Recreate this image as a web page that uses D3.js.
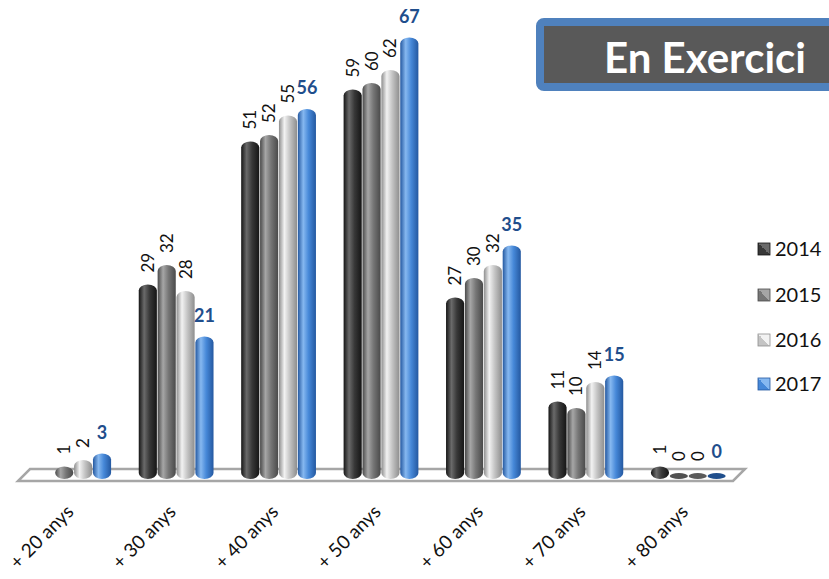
<!DOCTYPE html>
<html>
<head>
<meta charset="utf-8">
<script src="https://cdn.jsdelivr.net/npm/d3@7"></script>
<style>
  html, body { margin: 0; padding: 0; background: #fff; }
  svg { display: block; font-family: Lato, "Open Sans", sans-serif; }
</style>
</head>
<body>
<svg id="chart" width="829" height="579"></svg>
<script>
// Age bands and yearly counts
const categories = ["+ 20 anys", "+ 30 anys", "+ 40 anys", "+ 50 anys", "+ 60 anys", "+ 70 anys", "+ 80 anys"];
const years = ["2014", "2015", "2016", "2017"];
const v2014 = [null, 29, 51, 59, 27, 11, 1];
const v2015 = [1, 32, 52, 60, 30, 10, 0];
const v2016 = [2, 28, 55, 62, 32, 14, 0];
const v2017 = [3, 21, 56, 67, 35, 15, 0];
const seriesValues = [v2014, v2015, v2016, v2017];
const titleText = "En Exercici";

// Cylinder shading per series: edge, body, highlight, flat (zero-height disc)
const palette = [
  { edge: "#151515", body: "#383838", hi: "#6a6a6a", flat: "#2a2a2a" },
  { edge: "#4a4a4a", body: "#767676", hi: "#a6a6a6", flat: "#505050" },
  { edge: "#8e8e8e", body: "#c4c4c4", hi: "#f2f2f2", flat: "#5a5a5a" },
  { edge: "#2458a0", body: "#4688d8", hi: "#86b8f0", flat: "#1f4e8c" }
];

const svg = d3.select("#chart");
const defs = svg.append("defs");

palette.forEach((p, i) => {
  const g = defs.append("linearGradient").attr("id", "cyl" + i)
    .attr("x1", "0%").attr("x2", "100%").attr("y1", "0%").attr("y2", "0%");
  g.append("stop").attr("offset", "0%").attr("stop-color", p.edge);
  g.append("stop").attr("offset", "30%").attr("stop-color", p.hi);
  g.append("stop").attr("offset", "60%").attr("stop-color", p.body);
  g.append("stop").attr("offset", "100%").attr("stop-color", p.edge);

  const s = defs.append("linearGradient").attr("id", "sw" + i)
    .attr("x1", "0%").attr("x2", "100%").attr("y1", "100%").attr("y2", "0%");
  s.append("stop").attr("offset", "0%").attr("stop-color", p.body);
  s.append("stop").attr("offset", "50%").attr("stop-color", p.body);
  s.append("stop").attr("offset", "50%").attr("stop-color", p.hi);
  s.append("stop").attr("offset", "100%").attr("stop-color", p.hi);
});

// Scales
const x0 = d3.scaleBand().domain(categories).range([23, 739]).paddingInner(0.27).paddingOuter(0.13);
const x1 = d3.scaleBand().domain(years).range([0, x0.bandwidth()]).paddingInner(0.04);
const y = d3.scaleLinear().domain([0, 70]).range([473, 18]);
const baseY = 479;

// Floor (perspective plane)
const floor = [[18, 481], [733, 481], [745, 469], [30, 469]];
svg.append("path")
  .attr("d", d3.line()(floor) + "Z")
  .attr("fill", "#fff")
  .attr("stroke", "#a6a6a6")
  .attr("stroke-width", 2.5)
  .attr("stroke-linejoin", "miter");

// Bars
const barW = x1.bandwidth();
years.forEach((yr, si) => {
  const data = categories.map((c, ci) => ({ c, v: seriesValues[si][ci] }))
    .filter(d => d.v !== null);
  const g = svg.append("g");
  g.selectAll("rect").data(data).join("rect")
    .attr("x", d => x0(d.c) + x1(yr))
    .attr("width", barW)
    .attr("y", d => Math.min(y(d.v), baseY - 5))
    .attr("height", d => Math.max(baseY - y(d.v), 5))
    .attr("rx", barW / 2)
    .attr("ry", d => Math.min(6, Math.max(baseY - y(d.v), 5) / 2))
    .attr("fill", d => d.v === 0 ? palette[si].flat : `url(#cyl${si})`);

  if (si < 3) {
    g.selectAll("text").data(data).join("text")
      .attr("transform", d => `translate(${x0(d.c) + x1(yr) + barW / 2 + 6},${y(d.v) - 12}) rotate(-90)`)
      .attr("font-size", 17)
      .attr("fill", "#111")
      .text(d => d.v);
  } else {
    g.selectAll("text").data(data).join("text")
      .attr("x", d => x0(d.c) + x1(yr) + barW / 2)
      .attr("y", d => y(d.v) - 15)
      .attr("text-anchor", "middle")
      .attr("font-size", 18)
      .attr("font-weight", "bold")
      .attr("fill", "#1f4e8c")
      .text(d => d.v);
  }
});

// Category labels
svg.append("g").selectAll("text").data(categories).join("text")
  .attr("transform", d => `translate(${x0(d) + x0.bandwidth() / 2 + 1},${513}) rotate(-45)`)
  .attr("text-anchor", "end")
  .attr("font-size", 19)
  .attr("fill", "#111")
  .text(d => d);

// Legend
const legend = svg.append("g");
const legY = [249, 295, 340, 384];
years.forEach((yr, i) => {
  legend.append("rect")
    .attr("x", 758).attr("y", legY[i] - 6).attr("width", 12).attr("height", 12)
    .attr("fill", `url(#sw${i})`)
    .attr("stroke", palette[i].edge).attr("stroke-width", 0.8);
  legend.append("text")
    .attr("x", 775).attr("y", legY[i] + 7)
    .attr("font-size", 20).attr("fill", "#111")
    .text(yr);
});

// Title box
svg.append("rect")
  .attr("x", 540).attr("y", 22).attr("width", 320).attr("height", 65)
  .attr("rx", 4)
  .attr("fill", "#595959")
  .attr("stroke", "#4f81bd").attr("stroke-width", 8);
svg.append("text")
  .attr("x", 806).attr("y", 73)
  .attr("text-anchor", "end")
  .attr("font-size", 42).attr("font-weight", "bold")
  .attr("fill", "#fff")
  .text(titleText);
</script>
</body>
</html>
